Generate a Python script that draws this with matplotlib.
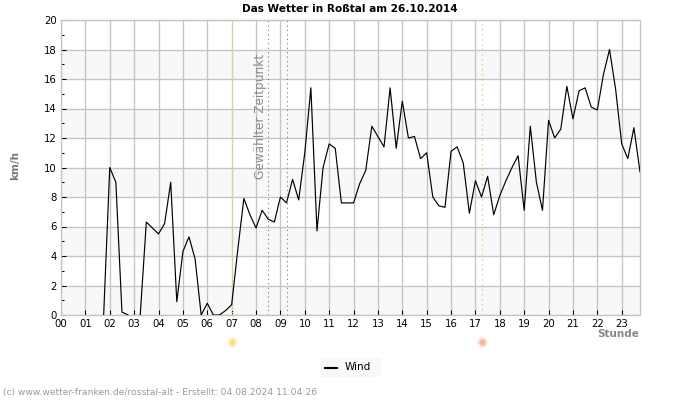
import numpy as np
import matplotlib
matplotlib.use("Agg")
import matplotlib.pyplot as plt
from matplotlib.patches import Rectangle
from matplotlib.ticker import MultipleLocator

nan = float("nan")

# Wind in km/h, one value every 15 minutes
wind = [
    nan, nan, nan, nan, nan, nan, nan, 0.0,      # 00:00
    10.0, 9.0, 0.2, 0.0, nan, 0.0, 6.3, 5.9,     # 02:00
    5.5, 6.2, 9.0, 0.9, 4.3, 5.3, 3.8, 0.0,      # 04:00
    0.8, 0.0, 0.0, 0.3, 0.7, 4.4, 7.9, 6.8,      # 06:00
    5.9, 7.1, 6.5, 6.3, 8.0, 7.6, 9.2, 7.8,      # 08:00
    11.0, 15.4, 5.7, 10.0, 11.6, 11.3, 7.6, 7.6, # 10:00
    7.6, 8.9, 9.8, 12.8, 12.1, 11.4, 15.4, 11.3, # 12:00
    14.5, 12.0, 12.1, 10.6, 11.0, 8.0, 7.4, 7.3, # 14:00
    11.1, 11.4, 10.3, 6.9, 9.1, 8.0, 9.4, 6.8,   # 16:00
    8.1, 9.1, 10.0, 10.8, 7.1, 12.8, 9.0, 7.1,   # 18:00
    13.2, 12.0, 12.6, 15.5, 13.3, 15.2, 15.4, 14.1, # 20:00
    13.9, 16.3, 18.0, 15.3, 11.6, 10.6, 12.7, 9.7,  # 22:00
]
hours = np.arange(len(wind)) * 0.25
hour_labels = ["%02d" % h for h in range(24)]

selected_from = 8.5
selected_to = 9.25
sunrise = 7.0
sunset = 17.25

fig = plt.figure(figsize=(7, 4), dpi=100)
ax = fig.add_axes([61 / 700, 85 / 400, 579 / 700, 295 / 400])

# light bands every 4 km/h
for low in range(0, 20, 4):
    ax.axhspan(low, low + 2, color="#f8f8f8", lw=0, zorder=0)

ax.grid(True, which="major", color="#c4c4c4", lw=0.95, zorder=1)
ax.set_axisbelow(True)

ax.axvline(selected_from, color="#777777", lw=0.8, ls=(0, (1, 3)), zorder=2)
ax.axvline(selected_to, color="#777777", lw=0.8, ls=(0, (1, 3)), zorder=2)
ax.axvline(sunrise, color="#efdc80", lw=0.8, ls=(0, (1, 1)), zorder=2)
ax.axvline(sunset, color="#f5bc70", lw=0.9, ls=(0, (1, 3)), zorder=2)

ax.plot(hours, wind, color="black", lw=0.85, zorder=3)

ax.set_xlim(0, 23.75)
ax.set_ylim(0, 20)
ax.set_xticks(range(24))
ax.set_xticklabels(hour_labels)
ax.yaxis.set_major_locator(MultipleLocator(2))
ax.yaxis.set_minor_locator(MultipleLocator(1))
ax.tick_params(axis="both", which="major", direction="in", length=3.6, width=0.75, labelsize=7.3, pad=3, colors="black")
ax.tick_params(axis="y", which="minor", direction="in", length=2.2, width=0.75)
for spine in ax.spines.values():
    spine.set_color("#c4c4c4")
    spine.set_linewidth(0.95)

ax.text(selected_from - 0.04, 9.2, "Gewählter Zeitpunkt", rotation=90, ha="right", va="bottom",
        fontsize=8.7, color="#8a8a8a", zorder=4)

# sun markers below the axis
sun_y = -1.8
ax.plot([sunrise], [sun_y], marker=(14, 1, 0), ms=9.5, color="#fdeebb", mew=0, clip_on=False)
ax.plot([sunrise], [sun_y], marker="o", ms=4, color="#fddc85", mew=0, clip_on=False)
ax.plot([sunset], [sun_y], marker=(14, 1, 0), ms=9.5, color="#fdd6c6", mew=0, clip_on=False)
ax.plot([sunset], [sun_y], marker="o", ms=4, color="#fdb399", mew=0, clip_on=False)

fig.text(350 / 700, 1 - 8.5 / 400, "Das Wetter in Roßtal am 26.10.2014", ha="center", va="center",
         fontsize=7.6, fontweight="bold", color="black")
fig.text(15 / 700, 1 - 166 / 400, "km/h", rotation=90, ha="center", va="center",
         fontsize=7.5, fontweight="bold", color="#777777")
fig.text(639 / 700, 1 - 334 / 400, "Stunde", ha="right", va="center",
         fontsize=7.5, fontweight="bold", color="#888888")

# legend
fig.add_artist(Rectangle((320 / 700, 1 - 377 / 400), 61 / 700, 19 / 400, transform=fig.transFigure,
                         color="#f8f8f8", lw=0))
fig.add_artist(plt.Line2D([325 / 700, 337 / 700], [1 - 368 / 400, 1 - 368 / 400],
                          transform=fig.transFigure, color="black", lw=1.5))
fig.text(345 / 700, 1 - 367 / 400, "Wind", ha="left", va="center", fontsize=7.5, color="black")

fig.text(3 / 700, 1 - 393 / 400, "(c) www.wetter-franken.de/rosstal-alt - Erstellt: 04.08.2024 11:04:26",
         ha="left", va="center", fontsize=6.6, color="#999999")

fig.savefig("out.png", dpi=100)
